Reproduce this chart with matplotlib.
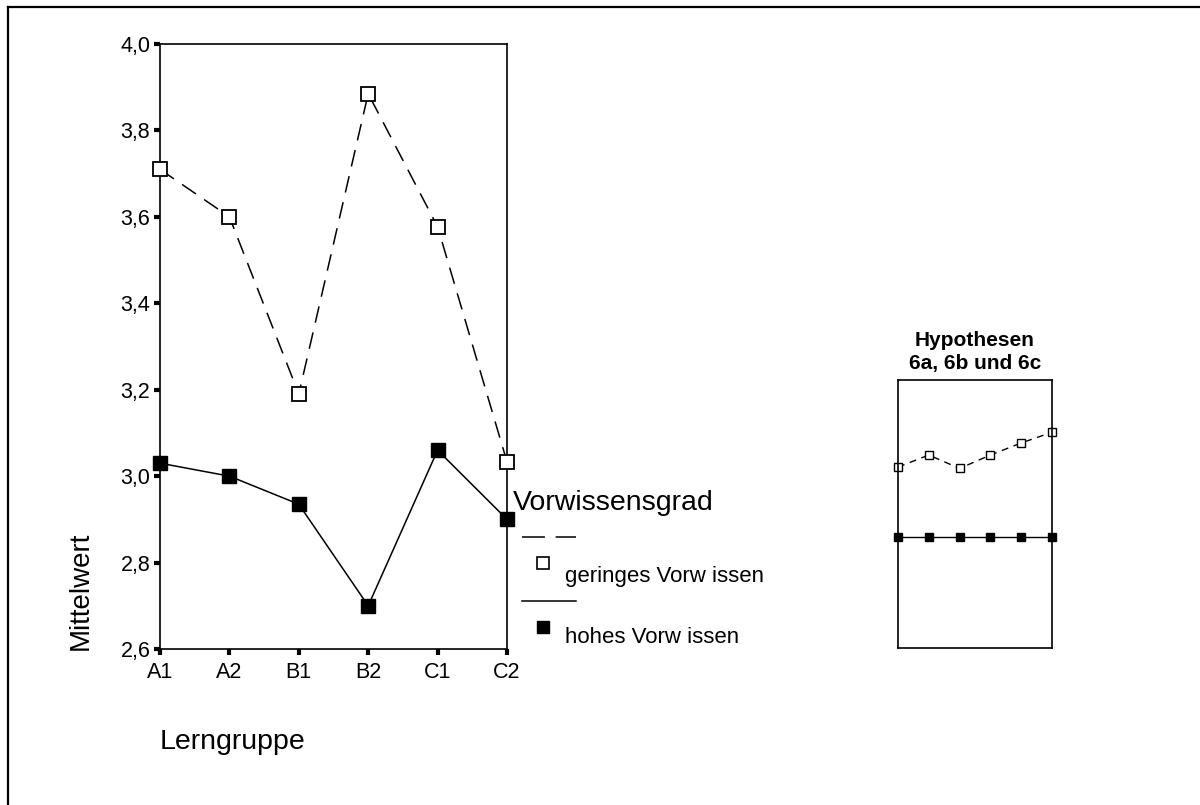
import numpy as np
import matplotlib
matplotlib.use('Agg')
import matplotlib.pyplot as plt
from matplotlib.lines import Line2D
from matplotlib.ticker import FixedLocator, FuncFormatter

plt.rcParams['font.family'] = ['Liberation Sans', 'DejaVu Sans']

# Daten
gruppen = ['A1', 'A2', 'B1', 'B2', 'C1', 'C2']
gering = [3.71, 3.60, 3.19, 3.885, 3.577, 3.033]
hoch = [3.03, 3.00, 2.935, 2.70, 3.06, 2.90]
y_ticks = [2.6, 2.8, 3.0, 3.2, 3.4, 3.6, 3.8, 4.0]

# Hypothesen-Skizze (schematische Werte, 0..100)
hyp_gering = [67.5, 72, 67, 72, 76.5, 80.5]
hyp_hoch = [41.5, 41.5, 41.5, 41.5, 41.5, 41.5]

W, H = 1200, 805
fig = plt.figure(figsize=(W / 100, H / 100), dpi=100, facecolor='white')


def px_axes(x0, y0, x1, y1):
    # Achsen aus Pixelkoordinaten (oben links als Ursprung)
    return fig.add_axes([x0 / W, 1 - y1 / H, (x1 - x0) / W, (y1 - y0) / H])


# Rahmen (nur oben und links sichtbar)
fig.add_artist(Line2D([8 / W, 1], [1 - 7 / H, 1 - 7 / H], color='black', lw=1.6,
                      transform=fig.transFigure))
fig.add_artist(Line2D([8 / W, 8 / W], [0, 1 - 7 / H], color='black', lw=1.6,
                      transform=fig.transFigure))

# Hauptdiagramm
ax = px_axes(160, 44, 507, 649)
x = np.arange(len(gruppen))
ax.plot(x, gering, color='black', lw=1.1, dashes=(11, 6.5), marker='s', markersize=9.5,
        markerfacecolor='white', markeredgecolor='black', markeredgewidth=1.3, clip_on=False,
        zorder=3)
ax.plot(x, hoch, color='black', lw=1.1, marker='s', markersize=10,
        markerfacecolor='black', markeredgecolor='black', clip_on=False, zorder=3)
ax.set_xlim(0, 5)
ax.set_ylim(2.6, 4.0)
ax.xaxis.set_major_locator(FixedLocator(x))
ax.set_xticklabels(gruppen)
ax.yaxis.set_major_locator(FixedLocator(y_ticks))
ax.yaxis.set_major_formatter(FuncFormatter(lambda v, p: f'{v:.1f}'.replace('.', ',')))
ax.tick_params(direction='out', length=4, width=3, labelsize=15.5, color='black')
ax.tick_params(axis='x', pad=5)
ax.tick_params(axis='y', pad=3)
for s in ax.spines.values():
    s.set_linewidth(1.2)

fig.text(81 / W, 1 - 650 / H, 'Mittelwert', rotation=90, ha='center', va='bottom',
         fontsize=20)
fig.text(160 / W, 1 - 742 / H, 'Lerngruppe', ha='left', va='center', fontsize=20.5)

# Legende
lg = px_axes(505, 485, 790, 655)
lg.set_xlim(505, 790)
lg.set_ylim(655, 485)
lg.axis('off')
lg.text(513, 503, 'Vorwissensgrad', ha='left', va='center', fontsize=20.5)
lg.plot([522, 576], [537, 537], color='black', lw=1.1, dashes=(15, 7))
lg.plot([543], [563], marker='s', markersize=9, markerfacecolor='white',
        markeredgecolor='black', markeredgewidth=1.2)
lg.text(565, 576, 'geringes Vorw issen', ha='left', va='center', fontsize=16)
lg.plot([522, 576], [601, 601], color='black', lw=1.1)
lg.plot([543], [627], marker='s', markersize=9, color='black')
lg.text(565, 637, 'hohes Vorw issen', ha='left', va='center', fontsize=16)

# Hypothesen-Skizze
hx = px_axes(898, 380, 1052, 648)
xs = np.arange(len(hyp_gering))
hx.plot(xs, hyp_gering, color='black', lw=1.0, dashes=(5, 4), marker='s', markersize=6,
        markerfacecolor='white', markeredgecolor='black', markeredgewidth=1.0, clip_on=False)
hx.plot(xs, hyp_hoch, color='black', lw=1.0, marker='s', markersize=6,
        markerfacecolor='black', markeredgecolor='black', clip_on=False)
hx.set_xlim(0, 5)
hx.set_ylim(0, 100)
hx.set_xticks([])
hx.set_yticks([])
for s in hx.spines.values():
    s.set_linewidth(1.2)
fig.text(975 / W, 1 - 352 / H, 'Hypothesen\n6a, 6b und 6c', ha='center', va='center',
         fontsize=15, fontweight='bold', linespacing=1.3)

fig.savefig('out.png', dpi=100, facecolor='white')
